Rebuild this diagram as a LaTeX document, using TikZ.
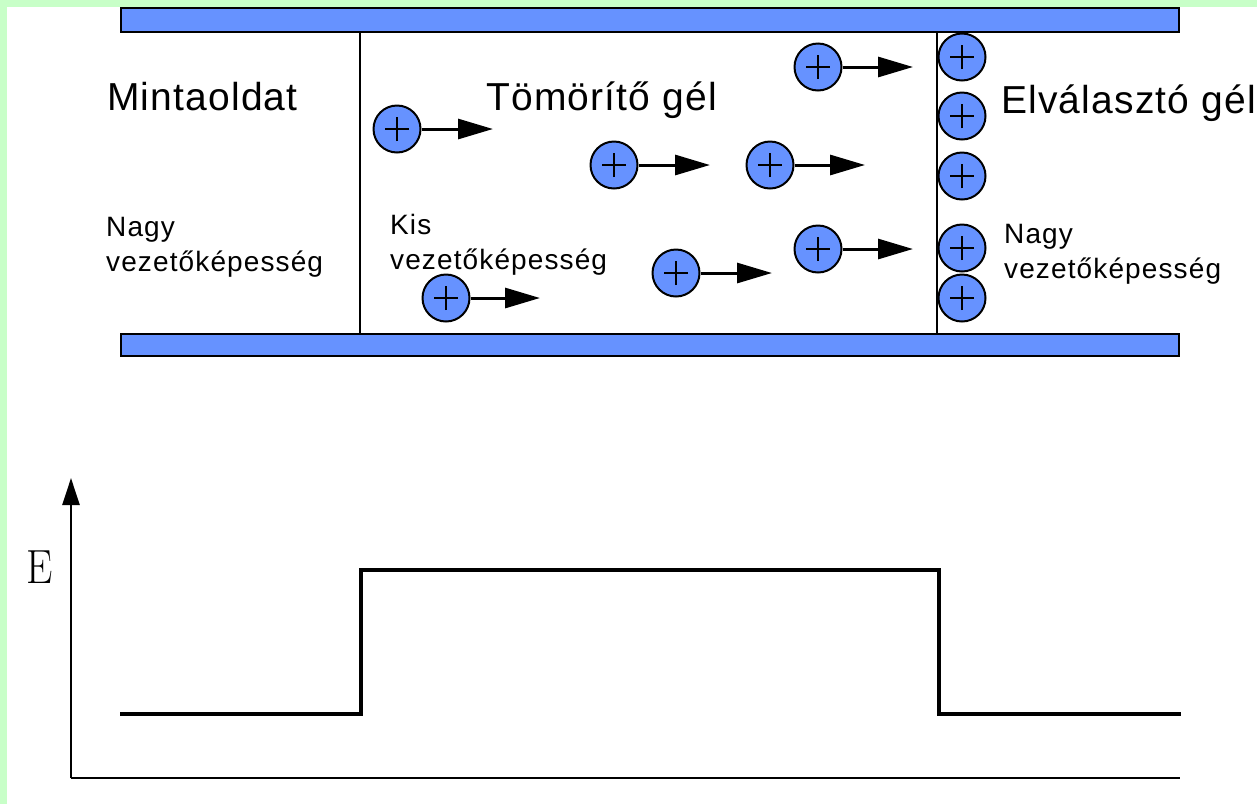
\documentclass[tikz,border=0pt]{standalone}
\usepackage{fontspec}
\newfontfamily\arial{Liberation Sans}
\usetikzlibrary{arrows.meta}
\definecolor{ionblue}{RGB}{102,146,255}
\definecolor{framegreen}{RGB}{200,255,200}
\begin{document}
\begin{tikzpicture}[x=1pt,y=-1pt,
  ion/.style={circle,draw=black,line width=2pt,fill=ionblue,minimum size=47pt,inner sep=0pt,
    path picture={\draw[line width=1.2pt]
      ([xshift=-12pt]path picture bounding box.center) -- ([xshift=12pt]path picture bounding box.center)
      ([yshift=-12pt]path picture bounding box.center) -- ([yshift=12pt]path picture bounding box.center);}},
  push/.style={line width=3pt,-{Triangle[length=35pt,width=20pt]}},
  gelbar/.style={draw=black,line width=2pt,fill=ionblue},
  bigtext/.style={font=\arial\fontsize{39}{47}\selectfont\addfontfeatures{LetterSpace=3},inner sep=0pt},
  smalltext/.style={font=\arial\fontsize{28}{35}\selectfont\addfontfeatures{LetterSpace=4},inner sep=0pt,align=left},
  curve/.style={line width=3.5pt,line join=miter},
  axisline/.style={line width=2.5pt}
]
\useasboundingbox (0,0) rectangle (1257,804);
\fill[white] (0,0) rectangle (1257,804);
\fill[framegreen] (0,0) rectangle (1257,7);
\fill[framegreen] (0,0) rectangle (7,804);

% gel bars and boundaries
\draw[gelbar] (121,8) rectangle (1179,32);
\draw[gelbar] (121,334) rectangle (1179,356);
\draw[line width=2pt] (360,33) -- (360,333);
\draw[line width=2pt] (937,33) -- (937,333);

% labels
\node[bigtext,anchor=base west] (minta) at (107,110) {Mintaoldat};
\node[bigtext,anchor=base west] (tomorito) at (486,110) {Tömörítő gél};
\node[bigtext,anchor=base west] (elvalaszto) at (1001,113) {Elválasztó gél};
\node[smalltext,anchor=north west] (nagyL) at (106,217) {Nagy\\vezetőképesség};
\node[smalltext,anchor=north west] (kis) at (390,214) {Kis\\vezetőképesség};
\node[smalltext,anchor=north west] (nagyR) at (1004,224) {Nagy\\vezetőképesség};

% moving ions
\node[ion] (c1) at (397,129) {};
\node[ion] (c2) at (818,67) {};
\node[ion] (c3) at (614,165) {};
\node[ion] (c4) at (770,165) {};
\node[ion] (c5) at (818,249) {};
\node[ion] (c6) at (676,273) {};
\node[ion] (c7) at (446,298) {};
\coordinate (t1) at (493,129);
\coordinate (t2) at (913,67);
\coordinate (t3) at (710,165);
\coordinate (t4) at (865,165);
\coordinate (t5) at (913,249);
\coordinate (t6) at (772,273);
\coordinate (t7) at (540,298);
\foreach \i in {1,...,7} {\draw[push] (c\i.east) -- (t\i);}

% stacked ions
\node[ion] (s1) at (962,57) {};
\node[ion] (s2) at (962,116) {};
\node[ion] (s3) at (962,176) {};
\node[ion] (s4) at (962,248) {};
\node[ion] (s5) at (962,298) {};

% field strength plot
\coordinate (origin) at (71,778);
\coordinate (ytop) at (71,478);
\coordinate (xend) at (1180,778);
\draw[axisline,-{Triangle[length=27pt,width=17pt]}] (origin) -- (ytop);
\draw[axisline] (origin) -- (xend);
\node[anchor=base,inner sep=0pt,font=\fontsize{48}{56}\selectfont] (E) at (40,583) {\scalebox{0.87}[1]{E}};
\draw[curve] (120,714) -- (361,714) -- (361,570) -- (939,570) -- (939,714) -- (1181,714);
\end{tikzpicture}
\end{document}
